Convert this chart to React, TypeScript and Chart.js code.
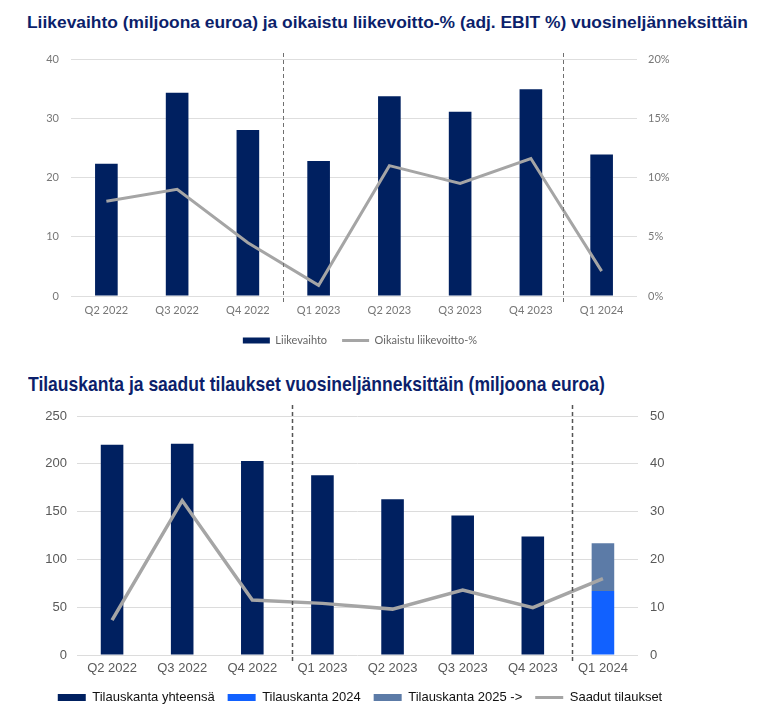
import React, { useEffect, useRef } from 'react';
import { Chart, registerables } from 'chart.js';

Chart.register(...registerables);

// ---- Data ----
const quarters = ['Q2 2022', 'Q3 2022', 'Q4 2022', 'Q1 2023', 'Q2 2023', 'Q3 2023', 'Q4 2023', 'Q1 2024'];

// Chart 1
const revenue = [22.3, 34.3, 28.0, 22.8, 33.7, 31.1, 34.9, 23.9];
const adjEbitPct = [8.0, 9.0, 4.5, 0.9, 11.0, 9.5, 11.6, 2.1];
const revenueTicks = { min: 0, max: 40, step: 10 };
const pctTicks = { min: 0, max: 20, step: 5 };
const dividers1 = [2.49, 6.46];

// Chart 2
const orderBookTotal = [220, 221, 203, 188, 163, 146, 124, null];
const orderBook2024 = [null, null, null, null, null, null, null, 67];
const orderBook2025 = [null, null, null, null, null, null, null, 50];
const ordersReceived = [7.3, 32.3, 11.5, 10.8, 9.6, 13.6, 9.9, 16.0];
const orderBookTicks = { min: 0, max: 250, step: 50 };
const ordersTicks = { min: 0, max: 50, step: 10 };
const dividers2 = [2.56, 6.56];

const NAVY = '#002060';
const GRAY_LINE = '#a5a5a5';

const dividerPlugin = {
  id: 'dividers',
  afterDatasetsDraw(chart: any, _args: any, opts: any) {
    const { ctx, chartArea, scales } = chart;
    const x = scales.x;
    ctx.save();
    ctx.strokeStyle = opts.color;
    ctx.lineWidth = opts.width;
    ctx.setLineDash(opts.dash);
    for (const v of opts.positions) {
      const px = Math.round(x.getPixelForValue(v)) + 0.5;
      ctx.beginPath();
      ctx.moveTo(px, chartArea.top - opts.extendTop);
      ctx.lineTo(px, chartArea.bottom + opts.extendBottom);
      ctx.stroke();
    }
    ctx.restore();
  },
};

function legendLabels(chart: any) {
  const items = (Chart as any).defaults.plugins.legend.labels.generateLabels(chart);
  return items.map((it: any) => {
    const ds = chart.data.datasets[it.datasetIndex];
    const isLine = ds.type === 'line';
    return {
      ...it,
      pointStyle: isLine ? 'line' : 'rect',
      lineWidth: isLine ? 3 : 0,
      strokeStyle: isLine ? ds.borderColor : ds.backgroundColor,
      fillStyle: isLine ? ds.borderColor : ds.backgroundColor,
    };
  });
}

function ChartOne() {
  const ref = useRef<HTMLCanvasElement>(null);
  useEffect(() => {
    const font = { family: 'Lato, "Liberation Sans", sans-serif', size: 11 };
    const tickColor = '#777777';
    const chart = new Chart(ref.current as HTMLCanvasElement, {
      type: 'bar',
      data: {
        labels: quarters,
        datasets: [
          {
            type: 'bar',
            label: 'Liikevaihto',
            data: revenue,
            backgroundColor: NAVY,
            yAxisID: 'y',
            barPercentage: 0.32,
            categoryPercentage: 1,
            order: 1,
          },
          {
            type: 'line',
            label: 'Oikaistu liikevoitto-%',
            data: adjEbitPct,
            borderColor: GRAY_LINE,
            backgroundColor: GRAY_LINE,
            borderWidth: 3,
            pointRadius: 0,
            tension: 0,
            yAxisID: 'y1',
            order: 0,
          },
        ] as any,
      },
      options: {
        animation: false,
        responsive: false,
        layout: { padding: { top: 19, left: 0, right: 0, bottom: 4 } },
        scales: {
          x: {
            grid: { display: false, drawTicks: false },
            border: { display: false },
            ticks: { font, color: tickColor, padding: 8, maxRotation: 0 },
            afterFit: (s: any) => { s.height = 24; },
          },
          y: {
            position: 'left',
            min: revenueTicks.min,
            max: revenueTicks.max,
            ticks: { stepSize: revenueTicks.step, font, color: tickColor, padding: 12 },
            grid: { color: '#dedede', lineWidth: 1, drawTicks: false },
            border: { display: false },
            afterFit: (s: any) => { s.width = 71; },
          },
          y1: {
            position: 'right',
            min: pctTicks.min,
            max: pctTicks.max,
            ticks: { stepSize: pctTicks.step, font, color: tickColor, padding: 11, callback: (v: any) => `${v}%` },
            grid: { display: false, drawTicks: false },
            border: { display: false },
            afterFit: (s: any) => { s.width = 83; },
          },
        },
        plugins: {
          legend: {
            position: 'bottom',
            labels: {
              font,
              color: '#666666',
              usePointStyle: true,
              pointStyleWidth: 27,
              boxHeight: 6,
              padding: 15,
              generateLabels: legendLabels,
              sort: (a: any, b: any) => a.datasetIndex - b.datasetIndex,
            },
          },
          tooltip: { enabled: false },
          dividers: {
            positions: dividers1,
            color: '#707070',
            width: 1,
            dash: [4, 3],
            extendTop: 6,
            extendBottom: 8,
          },
        } as any,
      },
      plugins: [dividerPlugin],
    });
    return () => chart.destroy();
  }, []);
  return <canvas ref={ref} width={720} height={320} style={{ position: 'absolute', left: 0, top: 40 }} />;
}

function ChartTwo() {
  const ref = useRef<HTMLCanvasElement>(null);
  useEffect(() => {
    const font = { family: '"Liberation Sans", Arial, sans-serif', size: 13 };
    const tickColor = '#595959';
    const chart = new Chart(ref.current as HTMLCanvasElement, {
      type: 'bar',
      data: {
        labels: quarters,
        datasets: [
          {
            type: 'bar',
            label: 'Tilauskanta yhteensä',
            data: orderBookTotal,
            backgroundColor: NAVY,
            yAxisID: 'y',
            barPercentage: 0.322,
            categoryPercentage: 1,
            order: 1,
          },
          {
            type: 'bar',
            label: 'Tilauskanta 2024',
            data: orderBook2024,
            backgroundColor: '#1161ff',
            yAxisID: 'y',
            barPercentage: 0.322,
            categoryPercentage: 1,
            order: 1,
          },
          {
            type: 'bar',
            label: 'Tilauskanta 2025 ->',
            data: orderBook2025,
            backgroundColor: '#5c7ba7',
            yAxisID: 'y',
            barPercentage: 0.322,
            categoryPercentage: 1,
            order: 1,
          },
          {
            type: 'line',
            label: 'Saadut tilaukset',
            data: ordersReceived,
            borderColor: GRAY_LINE,
            backgroundColor: GRAY_LINE,
            borderWidth: 3.5,
            pointRadius: 0,
            tension: 0,
            yAxisID: 'y1',
            order: 0,
          },
        ] as any,
      },
      options: {
        animation: false,
        responsive: false,
        layout: { padding: { top: 21, left: 0, right: 0, bottom: 10 } },
        scales: {
          x: {
            stacked: true,
            grid: { display: false, drawTicks: false },
            border: { display: false },
            ticks: { font, color: tickColor, padding: 6, maxRotation: 0 },
            afterFit: (s: any) => { s.height = 23; },
          },
          y: {
            stacked: true,
            position: 'left',
            min: orderBookTicks.min,
            max: orderBookTicks.max,
            ticks: { stepSize: orderBookTicks.step, font, color: tickColor, padding: 10 },
            grid: { color: '#dcdcdc', lineWidth: 1, drawTicks: false },
            border: { display: false },
            afterFit: (s: any) => { s.width = 77; },
          },
          y1: {
            position: 'right',
            min: ordersTicks.min,
            max: ordersTicks.max,
            ticks: { stepSize: ordersTicks.step, font, color: tickColor, padding: 12 },
            grid: { display: false, drawTicks: false },
            border: { display: false },
            afterFit: (s: any) => { s.width = 82; },
          },
        },
        plugins: {
          legend: {
            position: 'bottom',
            labels: {
              font,
              color: '#111111',
              usePointStyle: true,
              pointStyleWidth: 28,
              boxHeight: 7,
              padding: 13,
              generateLabels: legendLabels,
              sort: (a: any, b: any) => a.datasetIndex - b.datasetIndex,
            },
          },
          tooltip: { enabled: false },
          dividers: {
            positions: dividers2,
            color: '#555555',
            width: 1.5,
            dash: [4, 3],
            extendTop: 11,
            extendBottom: 7,
          },
        } as any,
      },
      plugins: [dividerPlugin],
    });
    return () => chart.destroy();
  }, []);
  return <canvas ref={ref} width={720} height={329} style={{ position: 'absolute', left: 0, top: 395 }} />;
}

export default function App() {
  const titleColor = '#0c1f6b';
  return (
    <div style={{ position: 'absolute', left: 0, top: 0, width: 759, height: 724, background: '#ffffff', overflow: 'hidden' }}>
      <div
        style={{
          position: 'absolute',
          left: 27,
          top: 12,
          fontFamily: '"Liberation Sans", Arial, sans-serif',
          fontWeight: 'bold',
          fontSize: '17.4px',
          lineHeight: '20px',
          color: titleColor,
          whiteSpace: 'nowrap',
        }}
      >
        Liikevaihto (miljoona euroa) ja oikaistu liikevoitto-% (adj. EBIT %) vuosineljänneksittäin
      </div>
      <ChartOne />
      <div
        style={{
          position: 'absolute',
          left: 28,
          top: 372,
          fontFamily: '"Liberation Sans", Arial, sans-serif',
          fontWeight: 'bold',
          fontSize: '21px',
          lineHeight: '24px',
          color: titleColor,
          whiteSpace: 'nowrap',
          transform: 'scaleX(0.834)',
          transformOrigin: 'left top',
        }}
      >
        Tilauskanta ja saadut tilaukset vuosineljänneksittäin (miljoona euroa)
      </div>
      <ChartTwo />
    </div>
  );
}
